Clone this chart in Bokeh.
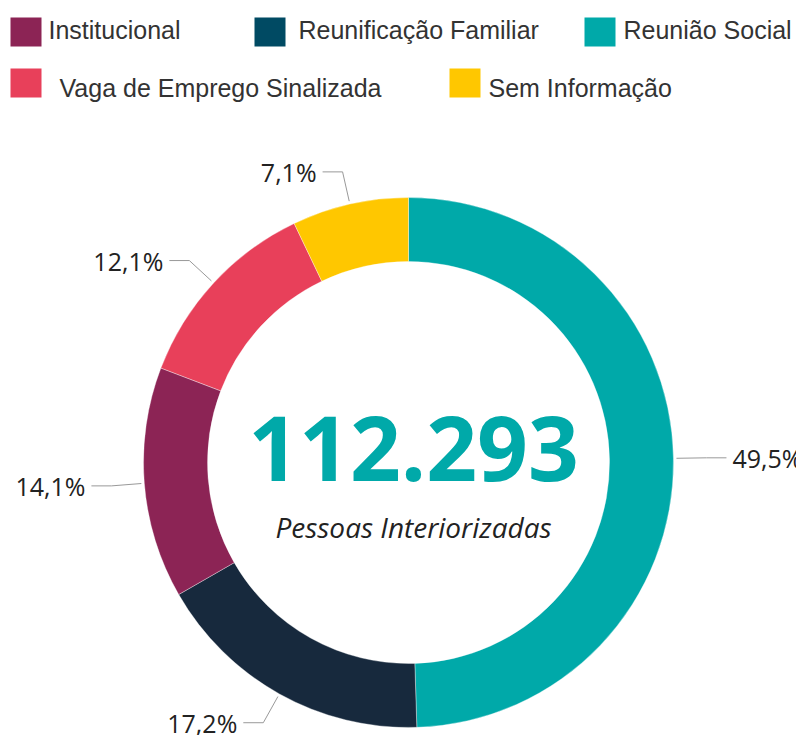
import math
from bokeh.plotting import figure
from bokeh.models import ColumnDataSource, Range1d
from bokeh.core.properties import value
from bokeh.embed import file_html
from bokeh.resources import INLINE

# ---- data ----
categories = ["Reunião Social", "Reunificação Familiar", "Institucional",
              "Vaga de Emprego Sinalizada", "Sem Informação"]
shares = [49.5, 17.2, 14.1, 12.1, 7.1]
slice_colors = ["#00A9A9", "#17293D", "#8C2455", "#E8405A", "#FFC700"]
total_people = 112293
center_caption = "Pessoas Interiorizadas"

legend_order = ["Institucional", "Reunificação Familiar", "Reunião Social",
                "Vaga de Emprego Sinalizada", "Sem Informação"]
legend_colors = ["#8C2455", "#004A63", "#00A9A9", "#E8405A", "#FFC700"]

# ---- layout (page pixels -> data units) ----
W, H = 796, 735
CX, CY = 408, 462          # donut centre in page pixels
R_OUT, R_IN = 265, 201


def dx(sx):
    return sx - CX


def dy(sy):
    return CY - sy


p = figure(width=W, height=H, output_backend="svg", toolbar_location=None,
           x_range=Range1d(dx(0), dx(W)), y_range=Range1d(dy(H), dy(0)),
           min_border=0, background_fill_color="white", border_fill_color="white")
p.axis.visible = False
p.grid.visible = False
p.outline_line_color = None

# wedges
tot = sum(shares)
starts, ends, mids = [], [], []
cum = 0.0
for s in shares:
    a0 = math.pi / 2 - 2 * math.pi * cum / tot
    cum += s
    a1 = math.pi / 2 - 2 * math.pi * cum / tot
    starts.append(a0)
    ends.append(a1)
    mids.append((a0 + a1) / 2)

src = ColumnDataSource(dict(x=[0] * len(shares), y=[0] * len(shares),
                            start=starts, end=ends, color=slice_colors))
p.annular_wedge(x="x", y="y", inner_radius=R_IN, outer_radius=R_OUT,
                start_angle="start", end_angle="end", direction="clock",
                fill_color="color", line_color="white", line_alpha=0.35,
                line_width=1, source=src)

# data labels with connectors
for s, m in zip(shares, mids):
    c, sn = math.cos(m), math.sin(m)
    x0, y0 = (R_OUT + 3) * c, (R_OUT + 3) * sn
    x1, y1 = (R_OUT + 33) * c, (R_OUT + 33) * sn
    side = 1 if c >= 0 else -1
    x2 = x1 + side * 20
    p.line([x0, x1, x2], [y0, y1, y1], line_color="#999999", line_width=1)
    lbl = ("%.1f%%" % s).replace(".", ",")
    p.text([x2 + side * 6], [y1], text=[lbl], text_align="left" if side > 0 else "right",
           text_baseline="middle", text_font=value("Open Sans"),
           text_font_size="25px", text_color="#222222")

# centre texts
num = "{:,}".format(total_people).replace(",", ".")
p.text([5], [dy(448)], text=[num], text_align="center", text_baseline="middle",
       text_font=value("Open Sans"), text_font_style="bold",
       text_font_size="89px", text_color="#00A9A9")
p.text([5], [dy(526)], text=[center_caption], text_align="center",
       text_baseline="middle", text_font=value("Open Sans"),
       text_font_style="italic", text_font_size="28px", text_color="#222222")

# legend (flow layout)
sw_left = [10, 254, 584, 10, 449]
sw_top = [17, 17, 17, 68, 68]
txt_left = [48, 298, 623, 59, 488]
txt_mid = [29, 29, 29, 87, 87]
SW, SH = 31, 29
p.rect(x=[dx(l + SW / 2) for l in sw_left], y=[dy(t + SH / 2) for t in sw_top],
       width=SW, height=SH, fill_color=legend_colors, line_color=None)
p.text(x=[dx(l) for l in txt_left], y=[dy(b) for b in txt_mid], text=legend_order,
       text_align="left", text_baseline="middle",
       text_font=value("Liberation Sans"), text_font_size="25px",
       text_color="#333333")

open("out.html", "w").write(file_html(p, INLINE))
